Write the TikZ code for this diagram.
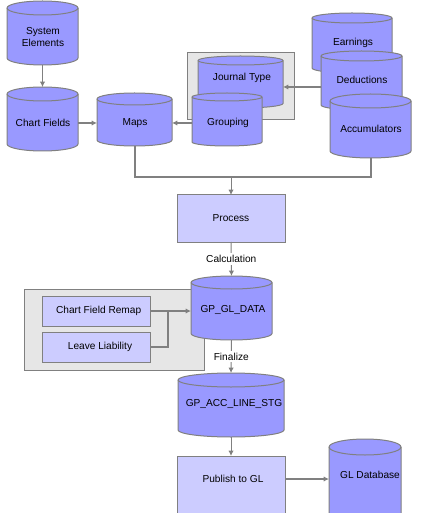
\documentclass[tikz,border=0pt]{standalone}
\usepackage{fontspec}
\setmainfont{Liberation Sans}
\usetikzlibrary{arrows.meta,calc}
\definecolor{cylfill}{HTML}{9999FF}
\definecolor{boxfill}{HTML}{CCCCFF}
\definecolor{grpfill}{HTML}{E6E6E6}
\definecolor{edgecol}{HTML}{808080}
\tikzset{
  cylshape/.style={fill=cylfill, draw=edgecol, line width=0.75pt},
  cylrim/.style={draw=edgecol, line width=0.75pt},
  anchorbox/.style={draw=none, inner sep=0pt, outer sep=0pt},
  lbl/.style={font=\fontsize{7.6}{9}\selectfont, align=center, inner sep=0pt},
  procbox/.style={fill=boxfill, draw=edgecol, line width=0.75pt, inner sep=0pt, outer sep=0pt, font=\fontsize{7.6}{9}\selectfont},
  grpbox/.style={fill=grpfill, draw=edgecol, line width=0.75pt, inner sep=0pt, outer sep=0pt},
  thinline/.style={draw=edgecol, line width=0.75pt},
  thickline/.style={draw=edgecol, line width=1.5pt},
  tip/.style={-{Latex[length=4pt,width=4pt]}},
  edgelbl/.style={fill=white, font=\fontsize{7.6}{9}\selectfont, inner sep=1.5pt},
}
% name, x1, y1, x2, y2, ry, tx, ty, text
\newcommand\dbcyl[9]{%
  \path[cylshape] (#2,#3+#6) -- (#2,#5-#6)
    arc[start angle=180,end angle=360,x radius={(#4-#2)*0.375pt},y radius={#6*0.75pt}]
    -- (#4,#3+#6)
    arc[start angle=0,end angle=180,x radius={(#4-#2)*0.375pt},y radius={#6*0.75pt}] -- cycle;
  \draw[cylrim] (#2,#3+#6) arc[start angle=180,end angle=360,x radius={(#4-#2)*0.375pt},y radius={#6*0.75pt}];
  \node[anchorbox, minimum width={(#4-#2)*0.75pt}, minimum height={(#5-#3)*0.75pt}] (#1) at ({(#2+#4)/2},{(#3+#5)/2}) {};
  \node[lbl] (#1t) at (#7,#8) {#9};
}
\begin{document}
\begin{tikzpicture}[x=0.75pt,y=-0.75pt]
\clip (0,0) rectangle (423,513);
\fill[white] (0,0) rectangle (423,513);

% group boxes
\node[grpbox, minimum width={107*0.75pt}, minimum height={67*0.75pt}] (grpa) at (240.5,86.5) {};
\node[grpbox, minimum width={180*0.75pt}, minimum height={81*0.75pt}] (grpb) at (114,329.5) {};

% cylinders
\dbcyl{syselem}{7}{1}{78}{65}{7}{43}{37}{System\\Elements}
\dbcyl{chartf}{7}{87}{78}{151}{7}{43}{123}{Chart Fields}
\dbcyl{maps}{97}{93}{172}{146}{6}{135}{123}{Maps}
\dbcyl{earn}{312}{13}{392}{73}{5}{353}{43}{Earnings}
\dbcyl{ded}{321}{51}{402}{110}{5}{362}{80}{Deductions}
\dbcyl{acc}{330}{94}{411}{158}{7}{371}{129}{Accumulators}
\dbcyl{jt}{198}{56}{283}{108}{4.5}{242}{78}{Journal Type}
\dbcyl{grp}{192}{93}{262}{146}{4}{228}{123}{Grouping}
\dbcyl{gl}{191}{276}{272}{340}{6.5}{233}{310}{GP\_GL\_DATA}
\dbcyl{stg}{178}{373}{284}{437}{7}{234}{404}{GP\_ACC\_LINE\_STG}
\dbcyl{gldb}{329}{439}{401}{560}{8}{370}{475}{GL Database}

% boxes
\node[procbox, minimum width={108*0.75pt}, minimum height={47*0.75pt}] (process) at (231,218.5) {Process};
\node[procbox, minimum width={108*0.75pt}, minimum height={30*0.75pt}] (cfr) at (96,311) {\hspace{4pt}Chart Field Remap};
\node[procbox, minimum width={108*0.75pt}, minimum height={30*0.75pt}] (ll) at (96,347) {\hspace{6pt}Leave Liability};
\node[procbox, minimum width={108*0.75pt}, minimum height={80*0.75pt}] (pub) at (231,496) {};
\node[lbl] (pubt) at (233,479) {Publish to GL};

% connectors
\draw[thinline, tip] (syselem.south) -- (chartf.north);
\draw[thickline, tip] (chartf.east |- mapst) -- (maps.west |- mapst);
\draw[thickline, tip] (grp.west |- grpt) -- (maps.east |- grpt);
\coordinate (dj) at (0,87);
\draw[thickline, tip] (ded.west |- dj) -- (jt.east |- dj);
\coordinate (mergey) at (0,177);
\draw[thickline] (maps.south) |- (acc.south |- mergey) -- (acc.south);
\draw[thinline, tip] (process.north |- mergey) -- (process.north);
\draw[thinline, tip] (process.south) -- node[edgelbl] {Calculation} (gl.north);
\draw[thickline, tip] (cfr.east) -- (gl.west |- cfr.east);
\draw[thickline] (ll.east) -| ($(cfr.east)!0.44!(gl.west |- cfr.east)$);
\draw[thinline, tip] (gl.south) -- node[edgelbl] {Finalize} (stg.north);
\draw[thinline, tip] (stg.south) -- (pub.north);
\draw[thickline, tip] (pub.east |- pubt) -- (gldb.west |- pubt);
\end{tikzpicture}
\end{document}
